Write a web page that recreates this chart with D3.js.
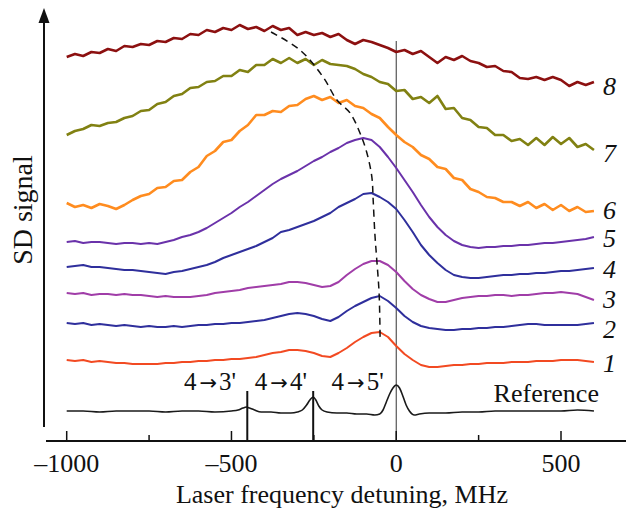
<!DOCTYPE html>
<html>
<head>
<meta charset="utf-8">
<script src="https://cdn.jsdelivr.net/npm/d3@7"></script>
<style>
  body { margin: 0; background: #fff; }
  text { font-family: 'Liberation Serif', 'Times New Roman', serif; fill: #111; }
</style>
</head>
<body>
<svg width="632" height="514"></svg>
<script>
// detuning grid of the SD traces, MHz
const detuning = [-1000,-975,-950,-925,-900,-875,-850,-825,-800,-775,
  -750,-725,-700,-675,-650,-625,-600,-575,-550,-525,
  -500,-475,-450,-425,-400,-375,-350,-325,-300,-275,
  -250,-225,-200,-175,-150,-125,-100,-75,-50,-25,
  0,25,50,75,100,125,150,175,200,225,
  250,275,300,325,350,375,400,425,450,475,
  500,525,550,575,600];

// SD signal (arb. units, traces stacked with their offsets)
const trace1 = [80,79,80,78,79,78,77,77,76,76,
  76,76,77,77,78,78,79,79,80,80,
  81,81,82,83,85,87,88,90,90,89,
  87,84,83,87,92,98,103,107,108,103,
  94,86,80,75,73,73,74,75,75,76,
  76,77,77,77,78,78,78,79,79,79,
  80,80,80,79,78];
const trace2 = [117,116,117,115,116,115,114,115,114,113,
  114,113,113,114,113,114,115,115,116,116,
  117,117,118,119,120,122,124,126,127,126,
  124,121,119,123,129,134,138,142,144,139,
  132,124,118,114,112,111,110,110,111,111,
  112,112,113,113,114,115,116,116,115,115,
  115,115,115,116,117];
const trace3 = [147,146,147,145,146,146,145,146,145,145,
  144,143,144,143,143,143,144,145,147,148,
  149,150,152,153,154,155,156,158,158,157,
  155,153,154,158,165,171,176,179,179,175,
  168,159,151,145,141,138,138,140,142,143,
  144,144,145,145,144,145,145,146,147,147,
  148,147,146,143,140];
const trace4 = [173,174,175,173,173,172,171,170,170,169,
  168,167,166,168,169,171,173,175,178,182,
  185,188,191,194,198,202,208,210,213,216,
  219,223,227,233,237,241,246,247,243,238,
  231,220,208,195,185,177,170,165,163,162,
  162,163,164,165,165,166,166,167,167,168,
  169,169,170,171,172];
const trace5 = [198,199,197,198,198,197,196,197,197,196,
  197,196,198,200,203,205,208,212,217,222,
  227,233,238,244,250,256,261,265,269,274,
  279,283,288,292,297,300,302,300,293,283,
  272,260,248,235,223,213,205,199,195,193,
  192,193,193,194,194,195,195,196,197,197,
  198,199,200,201,203];
const trace6 = [237,233,235,232,236,234,231,235,240,244,
  246,252,253,259,260,268,273,284,289,298,
  300,309,315,325,325,329,328,334,335,341,
  344,340,343,337,340,334,332,326,322,313,
  305,298,293,285,281,273,271,262,260,251,
  248,243,242,238,238,234,238,232,236,230,
  235,229,233,228,229];
const trace7 = [305,309,311,315,314,317,318,322,324,329,
  330,336,338,344,346,352,353,358,359,364,
  364,370,368,375,375,381,377,382,377,381,
  375,380,376,375,374,371,366,363,358,356,
  349,350,341,343,337,344,331,332,322,320,
  313,312,305,305,299,301,295,302,295,303,
  296,302,293,296,290];
const trace8 = [383,386,384,388,387,391,389,394,393,396,
  395,399,398,402,401,406,405,410,408,412,
  410,415,411,413,409,414,410,412,405,408,
  405,407,403,406,400,396,400,398,395,392,
  388,390,386,389,383,377,383,380,384,379,
  377,373,374,369,368,362,361,363,360,363,
  360,354,358,355,358];

const traceNames = ['1','2','3','4','5','6','7','8'];

// reference (saturated absorption) trace
const refDetuning = [-1000,-950,-900,-850,-800,-750,-700,-650,-600,-550,
  -500,-480,-465,-455,-445,-430,-410,-380,-350,-320,
  -300,-285,-272,-262,-252,-244,-235,-225,-210,-180,
  -150,-120,-90,-65,-50,-40,-30,-20,-10,0,
  10,20,30,40,55,70,100,150,200,250,
  300,350,400,450,500,550,600];
const refTrace = [29,29,28,29,29,29,28,29,29,28,
  29,30,32,33,32,30,28,28,27,27,
  28,30,35,40,43,40,34,30,28,27,
  27,26,26,25,26,30,38,46,52,55,
  52,44,35,29,25,26,27,27,28,28,
  29,29,29,29,29,30,29];

// hyperfine transitions: lower level, upper level
const transitionFrom = ['4', '4', '4'];
const transitionTo = ["3'", "4'", "5'"];
const transitionFreq = [-452, -252, 0];
const transitionLabelAt = [-565, -350, -117];

// dashed trace through the SD maxima
const peakDetuning = [-380,-292,-222,-180,-140,-110,-89,-74,-70,-65,-59,-52,-49];
const peakSignal = [408,390,363,340,327,307,287,263,240,207,180,147,103];

const xTicks = [-1000, -500, 0, 500];
const xMinorTicks = [-750, -250, 250];

const colors = ['#f24a22', '#2f2f9c', '#a03da8', '#2f2f9c', '#6a32aa', '#ff8c1f', '#818112', '#8c1010'];
const labelNudge = [10, 15, 8, 10, 10, 8, 12, 13];

const svg = d3.select('svg');

const x = d3.scaleLinear().domain([-1000, 500]).range([66.7, 561]);
const y = d3.scaleLinear().domain([0, 430]).range([440, 10]);

const traces = [trace1, trace2, trace3, trace4, trace5, trace6, trace7, trace8];

const line = d3.line()
  .x((d, i) => x(detuning[i]))
  .y((d) => y(d));

// vertical line at zero detuning
svg.append('line')
  .attr('x1', x(0)).attr('x2', x(0))
  .attr('y1', 41).attr('y2', 441)
  .attr('stroke', '#333')
  .attr('stroke-width', 1);

svg.selectAll('path.trace')
  .data(traces)
  .enter()
  .append('path')
  .attr('class', 'trace')
  .attr('d', line)
  .attr('fill', 'none')
  .attr('stroke', (d, i) => colors[i])
  .attr('stroke-width', (d, i) => (i >= 5 ? 2.6 : 2))
  .attr('stroke-linejoin', 'round');

// trace numbers
svg.selectAll('text.tlabel')
  .data(traces)
  .enter()
  .append('text')
  .attr('class', 'tlabel')
  .attr('x', x(600) + 9)
  .attr('y', (d, i) => y(d[d.length - 1]) + labelNudge[i])
  .attr('font-size', 26)
  .attr('font-style', 'italic')
  .text((d, i) => traceNames[i]);

// reference trace
const refLine = d3.line()
  .x((d, i) => x(refDetuning[i]))
  .y((d) => y(d))
  .curve(d3.curveMonotoneX);

svg.append('path')
  .datum(refTrace)
  .attr('d', refLine)
  .attr('fill', 'none')
  .attr('stroke', '#1a1a1a')
  .attr('stroke-width', 1.6);

svg.append('text')
  .attr('x', x(600) + 5)
  .attr('y', 402)
  .attr('text-anchor', 'end')
  .attr('font-size', 26)
  .text('Reference');

// transition markers
svg.selectAll('line.marker')
  .data(transitionFreq.slice(0, 2))
  .enter()
  .append('line')
  .attr('class', 'marker')
  .attr('x1', (d) => x(d)).attr('x2', (d) => x(d))
  .attr('y1', 391).attr('y2', 441)
  .attr('stroke', '#111')
  .attr('stroke-width', 2);

const trans = svg.selectAll('text.trans')
  .data(transitionFreq)
  .enter()
  .append('text')
  .attr('class', 'trans')
  .attr('x', (d, i) => x(transitionLabelAt[i]))
  .attr('y', 390)
  .attr('text-anchor', 'middle')
  .attr('font-size', 25);

trans.append('tspan').text((d, i) => transitionFrom[i]);
trans.append('tspan')
  .attr('dx', 3)
  .style('font-family', "'DejaVu Sans', sans-serif")
  .attr('font-size', 21)
  .text('\u2192');
trans.append('tspan')
  .attr('dx', 2)
  .text((d, i) => transitionTo[i]);

// dashed line through maxima
const peakLine = d3.line()
  .x((d, i) => x(peakDetuning[i]))
  .y((d) => y(d))
  .curve(d3.curveCatmullRom);

svg.append('path')
  .datum(peakSignal)
  .attr('d', peakLine)
  .attr('fill', 'none')
  .attr('stroke', '#111')
  .attr('stroke-width', 1.5)
  .attr('stroke-dasharray', '7,5');

// x axis
svg.append('line')
  .attr('x1', 46).attr('x2', 626)
  .attr('y1', 441).attr('y2', 441)
  .attr('stroke', '#111')
  .attr('stroke-width', 2);

svg.selectAll('line.major')
  .data(xTicks)
  .enter()
  .append('line')
  .attr('x1', (d) => x(d)).attr('x2', (d) => x(d))
  .attr('y1', 441).attr('y2', 431)
  .attr('stroke', '#111')
  .attr('stroke-width', 1.5);

svg.selectAll('line.minor')
  .data(xMinorTicks)
  .enter()
  .append('line')
  .attr('x1', (d) => x(d)).attr('x2', (d) => x(d))
  .attr('y1', 441).attr('y2', 435)
  .attr('stroke', '#111')
  .attr('stroke-width', 1.5);

svg.selectAll('text.tick')
  .data(xTicks)
  .enter()
  .append('text')
  .attr('class', 'tick')
  .attr('x', (d) => x(d))
  .attr('y', 472)
  .attr('text-anchor', 'middle')
  .attr('font-size', 26)
  .text((d) => (d < 0 ? '\u2013' + Math.abs(d) : d));

svg.append('text')
  .attr('x', 342)
  .attr('y', 503)
  .attr('text-anchor', 'middle')
  .attr('font-size', 26)
  .text('Laser frequency detuning, MHz');

// y axis with arrow
svg.append('line')
  .attr('x1', 44).attr('x2', 44)
  .attr('y1', 427).attr('y2', 18)
  .attr('stroke', '#111')
  .attr('stroke-width', 2);

svg.append('path')
  .attr('d', 'M44,8 L49.5,23 L38.5,23 Z')
  .attr('fill', '#111');

svg.append('text')
  .attr('transform', 'translate(32,210) rotate(-90)')
  .attr('text-anchor', 'middle')
  .attr('font-size', 28)
  .text('SD signal');
</script>
</body>
</html>
